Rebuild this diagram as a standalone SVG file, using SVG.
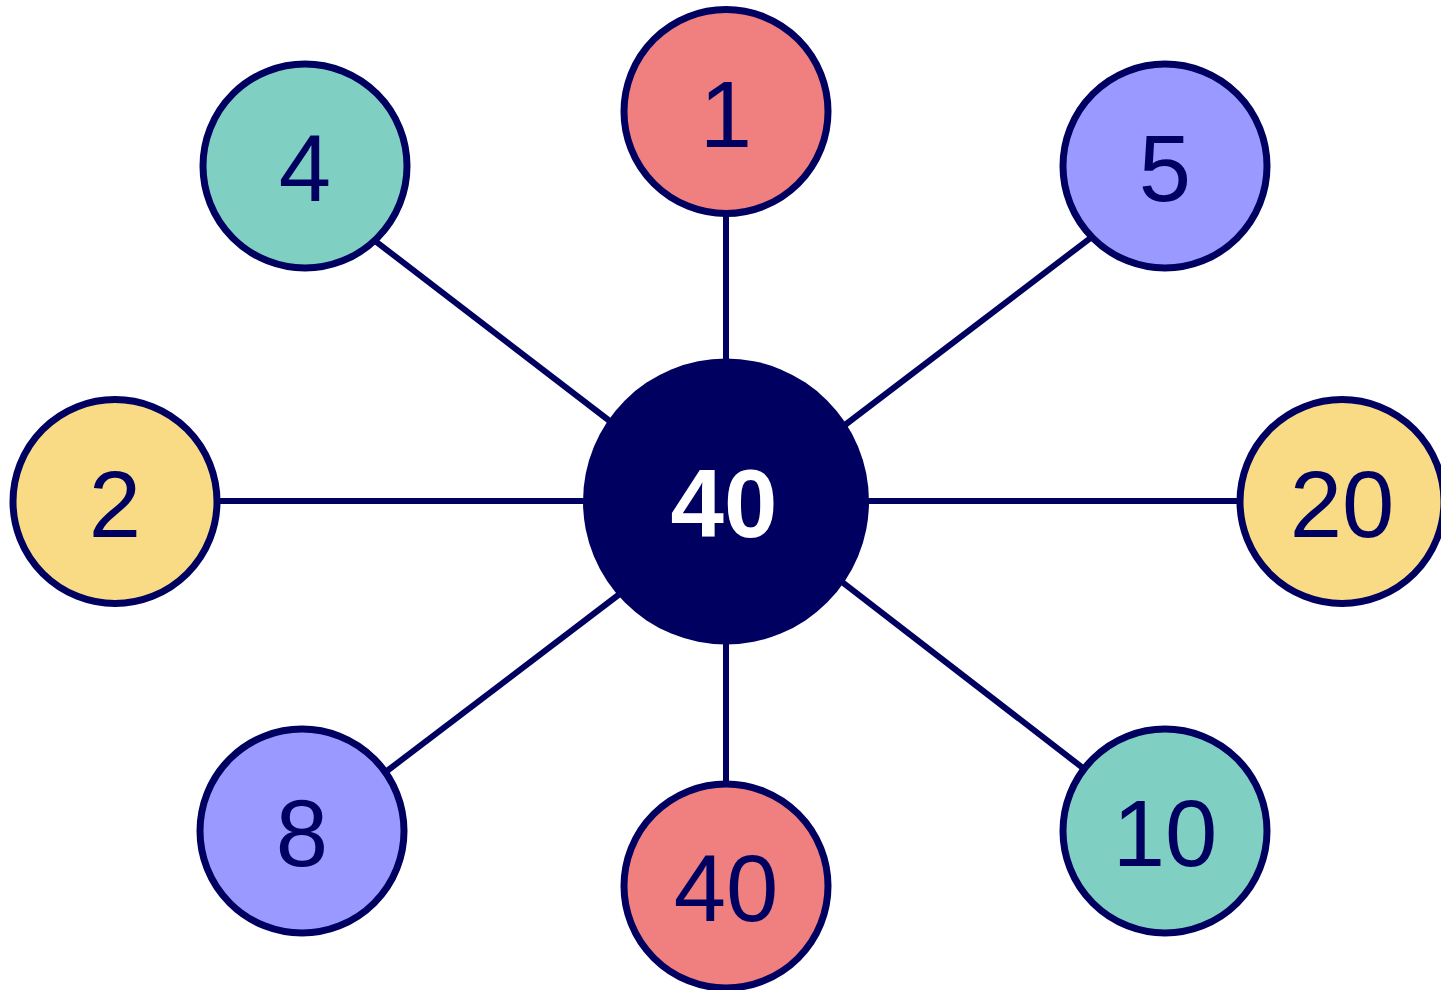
<svg xmlns="http://www.w3.org/2000/svg" width="1441" height="990" viewBox="0 0 1441 990">
  <style>
    .edge { stroke: #000060; stroke-width: 6; }
    .node circle { stroke: #000060; stroke-width: 7; }
    .node text { font-family: "Liberation Sans", Arial, sans-serif; font-size: 94px; fill: #000060; text-anchor: middle; }
    .red { fill: #F07F7F; }
    .teal { fill: #80CFC3; }
    .violet { fill: #9999FF; }
    .yellow { fill: #FADB85; }
  </style>
  <rect width="1441" height="990" fill="#FFFFFF"/>
  <!-- spokes from the hub to each outer node; ends are tucked under the circles -->
  <g id="connectors">
    <line class="edge" x1="726" y1="501" x2="726" y2="112"/>
    <line class="edge" x1="612.3" y1="423" x2="374.3" y2="240.3"/>
    <line class="edge" x1="841" y1="428" x2="1094" y2="235.3"/>
    <line class="edge" x1="726" y1="501" x2="115" y2="501"/>
    <line class="edge" x1="726" y1="501" x2="1342" y2="501"/>
    <line class="edge" x1="622.3" y1="592" x2="384.3" y2="773"/>
    <line class="edge" x1="726" y1="501" x2="726" y2="886"/>
    <line class="edge" x1="837.7" y1="578.6" x2="1087.3" y2="771.4"/>
  </g>
  <g id="node-center" class="node">
    <circle cx="726" cy="501.5" r="143" fill="#000060" style="stroke:none"/>
    <text x="724" y="537" style="fill:#FFFFFF;font-weight:bold;font-size:96px">40</text>
  </g>
  <g id="node-1" class="node">
    <circle class="red" cx="726" cy="111.5" r="102"/>
    <text x="726" y="147">1</text>
  </g>
  <g id="node-4" class="node">
    <circle class="teal" cx="305" cy="166" r="102"/>
    <text x="305" y="201">4</text>
  </g>
  <g id="node-5" class="node">
    <circle class="violet" cx="1165" cy="166" r="102"/>
    <text x="1165" y="201">5</text>
  </g>
  <g id="node-2" class="node">
    <circle class="yellow" cx="115" cy="501.5" r="102"/>
    <text x="115" y="537">2</text>
  </g>
  <g id="node-20" class="node">
    <circle class="yellow" cx="1342" cy="501.5" r="102"/>
    <text x="1342" y="537">20</text>
  </g>
  <g id="node-8" class="node">
    <circle class="violet" cx="302" cy="831" r="102"/>
    <text x="302" y="866">8</text>
  </g>
  <g id="node-40" class="node">
    <circle class="red" cx="726" cy="886" r="102"/>
    <text x="726" y="921">40</text>
  </g>
  <g id="node-10" class="node">
    <circle class="teal" cx="1165" cy="831" r="102"/>
    <text x="1165" y="866">10</text>
  </g>
</svg>
